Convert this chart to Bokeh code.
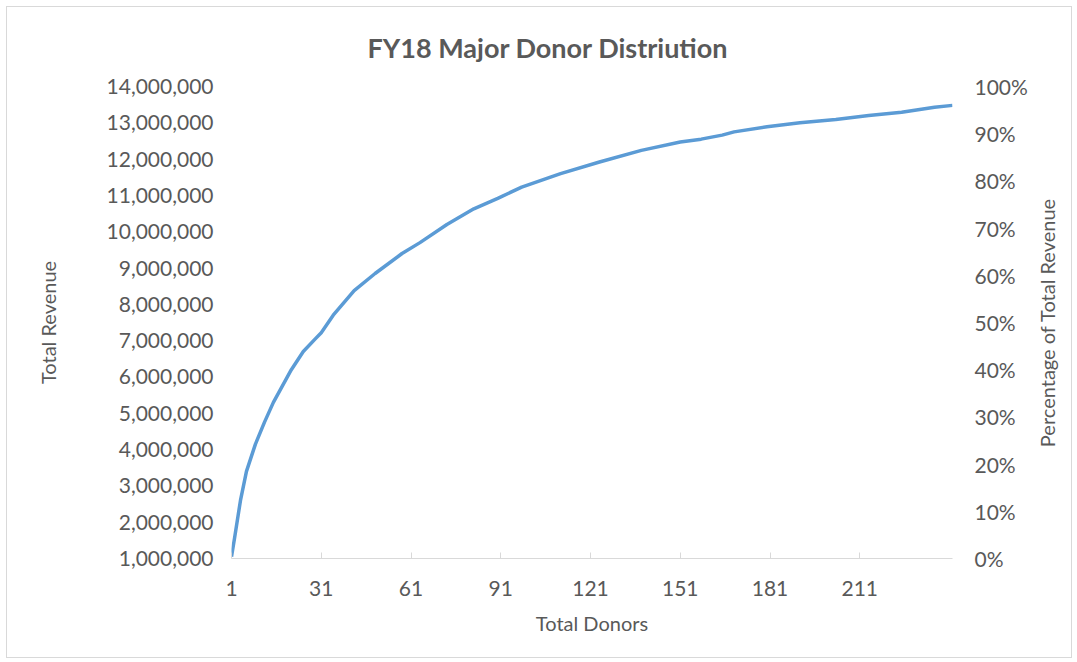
from bokeh.plotting import figure
from bokeh.layouts import row
from bokeh.models import Range1d, LinearAxis, FixedTicker, NumeralTickFormatter, Title
from bokeh.embed import file_html
from bokeh.resources import INLINE

# Cumulative revenue at selected donor counts
donors = [1, 2, 4, 6, 9, 12, 15, 21, 25, 29, 31, 35, 42, 49, 58, 64, 73, 82, 90,
          98, 111, 124, 138, 151, 158, 165, 169, 180, 191, 203, 214, 225, 236, 242]
revenue = [1050000, 1550000, 2600000, 3400000, 4150000, 4750000, 5300000, 6200000,
           6700000, 7050000, 7220000, 7700000, 8380000, 8850000, 9400000, 9700000,
           10200000, 10630000, 10920000, 11230000, 11600000, 11920000, 12240000,
           12470000, 12550000, 12660000, 12750000, 12890000, 13000000, 13090000,
           13200000, 13290000, 13430000, 13480000]

x_ticks = [1, 31, 61, 91, 121, 151, 181, 211]
rev_ticks = [1000000 * i for i in range(1, 15)]
pct_ticks = [i / 10 for i in range(0, 11)]

TXT = "#595959"
FONT = "Lato"

p = figure(width=1023, height=650, output_backend="svg", toolbar_location=None,
           x_range=Range1d(donors[0], donors[-1]),
           y_range=Range1d(rev_ticks[0], rev_ticks[-1]),
           min_border_left=224, min_border_right=78,
           min_border_top=79, min_border_bottom=99,
           title="FY18 Major Donor Distriution")

p.title.text_font = FONT
p.title.text_font_style = "bold"
p.title.text_font_size = "27px"
p.title.text_color = TXT
p.title.align = "left"
p.title.offset = 136
p.title.vertical_align = "top"
p.title.standoff = 42

p.xgrid.visible = False
p.ygrid.visible = False
p.outline_line_color = None
p.background_fill_color = "white"
p.border_fill_color = "white"

p.extra_y_ranges = {"pct": Range1d(pct_ticks[0], pct_ticks[-1])}
right = LinearAxis(y_range_name="pct")
p.add_layout(right, "right")

xa = p.xaxis[0]
xa.ticker = FixedTicker(ticks=x_ticks)
xa.axis_label = "Total Donors"
xa.axis_line_color = "#d9d9d9"
xa.major_tick_line_color = "#d9d9d9"
xa.major_tick_in = 6
xa.major_tick_out = 0
xa.minor_tick_line_color = None
xa.major_label_standoff = 22
xa.axis_label_standoff = 12

ya = p.yaxis[0]
ya.ticker = FixedTicker(ticks=rev_ticks)
ya.formatter = NumeralTickFormatter(format="0,0")
ya.axis_label = "Total Revenue"
ya.major_label_standoff = 18
ya.axis_label_standoff = 44

right.ticker = FixedTicker(ticks=pct_ticks)
right.formatter = NumeralTickFormatter(format="0%")
right.major_label_standoff = 22

for ax in (ya, right):
    ax.axis_line_color = None
    ax.major_tick_line_color = None
    ax.minor_tick_line_color = None
    ax.major_tick_in = 0
    ax.major_tick_out = 0

for ax in (xa, ya, right):
    ax.major_label_text_font = FONT
    ax.major_label_text_font_size = "21px"
    ax.major_label_text_color = TXT
    ax.axis_label_text_font = FONT
    ax.axis_label_text_font_size = "20px"
    ax.axis_label_text_font_style = "normal"
    ax.axis_label_text_color = TXT

p.line(donors, revenue, line_color="#5b9bd5", line_width=3.5, line_join="round")

# Narrow strip on the right carrying the secondary-axis title (reads bottom to top)
q = figure(width=41, height=650, output_backend="svg", toolbar_location=None,
           x_axis_type=None, y_axis_type=None,
           min_border_left=0, min_border_right=0,
           min_border_top=79, min_border_bottom=99)
q.xgrid.visible = False
q.ygrid.visible = False
q.outline_line_color = None
q.background_fill_color = "white"
q.border_fill_color = "white"
q.add_layout(Title(text="Percentage of Total Revenue", align="center",
                   vertical_align="middle", standoff=6,
                   text_font=FONT, text_font_size="20px",
                   text_font_style="normal", text_color=TXT), "left")

layout = row(p, q, styles={"border": "1px solid #d9d9d9", "margin": "6px 0 0 6px"})

open("out.html", "w").write(file_html(layout, INLINE))
